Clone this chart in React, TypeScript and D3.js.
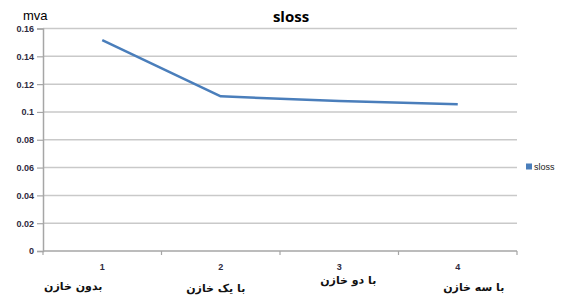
import React, { useEffect, useRef } from 'react';
import * as d3 from 'd3';

const categories = ['1', '2', '3', '4'];
const categoryNames = ['بدون خازن', 'با یک خازن', 'با دو خازن', 'با سه خازن'];
const slossValues = [0.1516, 0.1112, 0.1078, 0.1055];
const yTicks = [0, 0.02, 0.04, 0.06, 0.08, 0.1, 0.12, 0.14, 0.16];
const yTickLabels = ['0', '0.02', '0.04', '0.06', '0.08', '0.1', '0.12', '0.14', '0.16'];

// the persian labels sit a little off their ticks in the original
const nameShift = [[-29, 290], [-5, 292], [9, 284], [16, 291]];

const App = () => {
  const svgRef = useRef<SVGSVGElement>(null);
  const totalWidth = 580;
  const totalHeight = 297;
  const margin = { top: 28.5, right: 63, bottom: 46, left: 43 };
  const width = totalWidth - margin.left - margin.right;
  const height = totalHeight - margin.top - margin.bottom;

  useEffect(() => {
    const root = d3.select(svgRef.current);
    root.selectAll('*').remove();
    root.append('rect').attr('width', totalWidth).attr('height', totalHeight).attr('fill', '#fff');

    const svg = root.append('g').attr('transform', `translate(${margin.left},${margin.top})`);

    const x = d3.scaleBand().domain(categories).range([0, width]);
    const y = d3.scaleLinear().domain([0, 0.16]).range([height, 0]);

    // grid lines
    svg.append('g')
      .selectAll('line')
      .data(yTicks.slice(1))
      .enter().append('line')
      .attr('x1', 0).attr('x2', width)
      .attr('y1', (d) => y(d)).attr('y2', (d) => y(d))
      .attr('stroke', '#c9c9c9')
      .attr('stroke-width', 1.5);

    // y axis
    const yAxis = svg.append('g')
      .call(d3.axisLeft(y).tickValues(yTicks).tickSize(6).tickPadding(3)
        .tickFormat((d, i) => yTickLabels[i]));
    yAxis.select('.domain').attr('stroke', '#a6a6a6').attr('stroke-width', 1.5);
    yAxis.selectAll('.tick line').attr('stroke', '#a6a6a6').attr('stroke-width', 1.2);
    yAxis.selectAll('.tick text')
      .attr('font-family', 'Liberation Sans, Arial, sans-serif')
      .attr('font-size', 9)
      .attr('font-weight', 'bold')
      .attr('fill', '#2f2a40');

    // x axis
    const xAxisG = svg.append('g').attr('transform', `translate(0,${height})`);
    xAxisG.append('line')
      .attr('x1', 0).attr('x2', width)
      .attr('stroke', '#a6a6a6').attr('stroke-width', 1.5);
    const bounds = categories.map((c) => x(c) as number).concat([width]);
    xAxisG.selectAll('line.tk')
      .data(bounds)
      .enter().append('line')
      .attr('class', 'tk')
      .attr('x1', (d) => d).attr('x2', (d) => d)
      .attr('y1', 0).attr('y2', 4)
      .attr('stroke', '#a6a6a6').attr('stroke-width', 1.2);
    xAxisG.selectAll('text.num')
      .data(categories)
      .enter().append('text')
      .attr('class', 'num')
      .attr('x', (d) => (x(d) as number) + x.bandwidth() / 2)
      .attr('y', 19)
      .attr('text-anchor', 'middle')
      .attr('font-family', 'Liberation Sans, Arial, sans-serif')
      .attr('font-size', 9)
      .attr('font-weight', 'bold')
      .attr('fill', '#2f2a40')
      .text((d) => d);

    root.append('g')
      .selectAll('text')
      .data(categoryNames)
      .enter().append('text')
      .attr('x', (d, i) => margin.left + (x(categories[i]) as number) + x.bandwidth() / 2 + nameShift[i][0])
      .attr('y', (d, i) => nameShift[i][1])
      .attr('text-anchor', 'middle')
      .attr('direction', 'rtl')
      .attr('font-family', 'DejaVu Sans, sans-serif')
      .attr('font-size', 11)
      .attr('font-weight', 'bold')
      .attr('fill', '#111')
      .text((d) => d);

    // series line
    const line = d3.line<number>()
      .x((d, i) => (x(categories[i]) as number) + x.bandwidth() / 2)
      .y((d) => y(d));
    svg.append('path')
      .datum(slossValues)
      .attr('d', line)
      .attr('fill', 'none')
      .attr('stroke', '#4a7ebb')
      .attr('stroke-width', 2.5)
      .attr('stroke-linejoin', 'round');

    // title + unit
    root.append('text')
      .attr('x', 291).attr('y', 22)
      .attr('text-anchor', 'middle')
      .attr('font-family', 'Open Sans, Liberation Sans, sans-serif')
      .attr('font-size', 15)
      .attr('font-weight', 'bold')
      .attr('fill', '#000')
      .text('sloss');
    root.append('text')
      .attr('x', 23).attr('y', 20)
      .attr('font-family', 'Liberation Sans, Arial, sans-serif')
      .attr('font-size', 13)
      .attr('fill', '#000')
      .text('mva');

    // legend
    const lg = root.append('g').attr('transform', 'translate(526,167)');
    lg.append('rect').attr('x', 0).attr('y', -3.5).attr('width', 6).attr('height', 6).attr('fill', '#4a7ebb');
    lg.append('text')
      .attr('x', 8).attr('y', 3)
      .attr('font-family', 'Liberation Sans, Arial, sans-serif')
      .attr('font-size', 9)
      .attr('fill', '#222')
      .text('sloss');
  }, []);

  return (
    <svg ref={svgRef} width={totalWidth} height={totalHeight}
      style={{ position: 'absolute', left: 0, top: 0 }} />
  );
};

export default App;
